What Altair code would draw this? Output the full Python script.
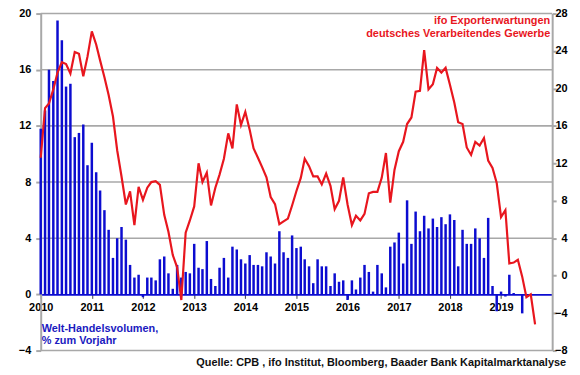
import altair as alt
import pandas as pd

# ---- data ----
trade_start = "2010-01-01"
trade_yoy = [
    11.8, 13.1, 16.0, 15.2, 19.5, 18.1, 14.8, 15.0, 11.2, 11.5, 12.1, 9.2,
    10.8, 8.7, 7.4, 6.0, 4.6, 2.6, 4.0, 4.8, 3.9, 2.1, 1.2, 1.4,
    -0.2, 1.2, 1.2, 1.0, 2.5, 2.7, 1.5, 0.4, 2.1, 1.2, 1.6, 1.5,
    3.6, 1.9, 1.8, 3.8, 1.1, 0.6, 1.9, 2.6, 1.2, 3.4, 3.2, 2.5,
    2.2, 2.8, 2.1, 2.1, 2.0, 3.0, 2.7, 2.2, 4.5, 3.0, 2.6, 4.2,
    3.3, 3.4, 2.5, 2.0, 0.8, 2.5, 2.0, 2.0, 0.6, 1.5, 0.9, 1.0,
    -0.4, 1.0, 0.35, 1.2, 2.1, 1.6, 0.2, 2.1, 1.5, 0.5, 3.4, 3.7,
    4.4, 2.2, 6.7, 3.6, 5.9, 4.5, 5.6, 4.7, 5.4, 4.8, 5.5, 5.0,
    5.7, 5.3, 2.0, 4.6, 3.6, 3.6, 4.7, 4.0, 2.6, 5.45, 0.6, -1.2,
    0.2, -0.15, 1.4, 0.1, None, -1.35,
]
ifo_start = "2010-01-01"
ifo_export = [
    12.6, 17.9, 18.4, 19.9, 21.7, 22.8, 22.6, 21.6, 23.9, 23.7, 21.3, 23.4,
    26.1, 24.7, 23.0, 21.2, 19.3, 17.0, 13.4, 10.6, 7.6, 9.0, 5.4, 9.5,
    8.1, 9.4, 10.0, 10.1, 9.7, 6.5, 4.7, 2.2, 0.9, -2.6, 4.6, 5.9,
    7.4, 12.0, 10.0, 11.0, 7.5, 9.4, 10.8, 12.5, 15.2, 13.6, 18.3, 16.1,
    17.5, 15.6, 13.6, 12.6, 11.6, 10.5, 8.4, 7.65, 5.5, 5.8, 6.1, 7.5,
    9.05, 10.45, 12.5, 11.7, 10.6, 10.6, 9.75, 10.9, 9.6, 7.1, 8.0, 10.5,
    7.6, 5.4, 6.4, 5.9, 6.6, 8.8, 8.95, 8.95, 10.45, 13.1, 7.8, 11.3,
    13.3, 14.3, 16.2, 16.9, 19.65, 19.75, 24.1, 19.9, 20.45, 22.2, 21.7, 22.2,
    20.4, 18.5, 16.4, 16.2, 13.7, 12.9, 14.3, 13.9, 14.7, 12.3, 11.5, 9.9,
    6.25, 7.0, 1.3, 1.4, 1.7, -0.1, -2.3, -2.0, -5.2,
]
year_ticks = list(range(2010, 2020))
left_ticks = [-4, 0, 4, 8, 12, 16, 20]
grid_values = [-4, 4, 8, 12, 16, 20]
right_ticks = [-8, -4, 0, 4, 8, 12, 16, 20, 24, 28]

red_title = ["ifo Exporterwartungen", "deutsches Verarbeitendes Gewerbe"]
blue_title = ["Welt-Handelsvolumen,", "% zum Vorjahr"]
source_text = "Quelle: CPB , ifo Institut, Bloomberg, Baader Bank Kapitalmarktanalyse"

# ---- tables ----
trade_df = pd.DataFrame({
    "date": pd.date_range(trade_start, periods=len(trade_yoy), freq="MS"),
    "trade": trade_yoy,
}).dropna()
ifo_df = pd.DataFrame({
    "date": pd.date_range(ifo_start, periods=len(ifo_export), freq="MS"),
    "ifo": ifo_export,
})
grid_df = pd.DataFrame({"trade": grid_values})

FONT = "Liberation Sans"
BLUE = "#0c0cd0"
RED = "#e8161e"
GRID = "#a8a8a8"
AXIS = "#a8a8a8"

W, H = 516, 340

x_enc = alt.X(
    "date:T",
    scale=alt.Scale(domain=[alt.DateTime(year=2010, month=1, date=1),
                            alt.DateTime(year=2020, month=1, date=1)],
                    padding=0),
    axis=alt.Axis(
        values=[alt.DateTime(year=y, month=1, date=1) for y in year_ticks],
        format="%Y", title=None, grid=False, labelFlush=False,
        offset=-56.7, domainColor=BLUE, domainWidth=2,
        tickColor="#404040", tickSize=4, tickWidth=1,
        labelPadding=3, labelFont=FONT, labelFontWeight="bold",
        labelFontSize=11, labelColor="#000000",
    ),
)

left_y = alt.Y(
    "trade:Q",
    scale=alt.Scale(domain=[-4, 20], nice=False, zero=False, padding=0),
    axis=alt.Axis(
        values=left_ticks, title=None, grid=False, labelFlush=False,
        domainColor=AXIS, domainWidth=2, tickColor=AXIS, tickWidth=2,
        tickSize=5, labelPadding=5, labelFont=FONT,
        labelFontWeight="bold", labelFontSize=11, labelColor="#000000",
    ),
)

# horizontal guide lines at the left-axis tick values
grid = alt.Chart(grid_df).mark_bar(color=GRID, height=1.6).encode(
    y=left_y, x=alt.value(0), x2=alt.value(W),
)

bars = alt.Chart(trade_df).mark_bar(size=2.5, color=BLUE).encode(
    x=x_enc, y=left_y,
)

left_layer = alt.layer(grid, bars)

line = alt.Chart(ifo_df).mark_line(color=RED, strokeWidth=2.2).encode(
    x=x_enc,
    y=alt.Y(
        "ifo:Q",
        scale=alt.Scale(domain=[-8, 28], nice=False, zero=False, padding=0),
        axis=alt.Axis(
            orient="right", values=right_ticks, title=None, grid=False,
            labelFlush=False,
            domainColor=AXIS, domainWidth=2, tickColor=AXIS, tickWidth=2,
            tickSize=4, labelAlign="right", labelPadding=11, labelFont=FONT,
            labelFontWeight="bold", labelFontSize=11, labelColor="#000000",
        ),
    ),
)


def text_line(txt, px, py, align, color):
    return alt.Chart(pd.DataFrame({"t": [txt]})).mark_text(
        align=align, baseline="middle", font=FONT, fontWeight="bold",
        fontSize=11, color=color,
    ).encode(text="t:N", x=alt.value(px), y=alt.value(py))


texts = [
    text_line(red_title[0], 514, 8, "right", RED),
    text_line(red_title[1], 514, 20.5, "right", RED),
    text_line(blue_title[0], 1, 318, "left", "#1a1ac0"),
    text_line(blue_title[1], 1, 330, "left", "#1a1ac0"),
    text_line(source_text, 530, 353, "right", "#111111"),
]

chart = alt.layer(left_layer, line, *texts).resolve_scale(
    y="independent"
).properties(
    width=W, height=H,
    padding={"left": 33, "top": 4, "right": 20, "bottom": 20},
    autosize=alt.AutoSizeParams(type="none"),
).configure_view(strokeWidth=0)

chart.save("out.html", embed_options={"renderer": "svg", "actions": False})
